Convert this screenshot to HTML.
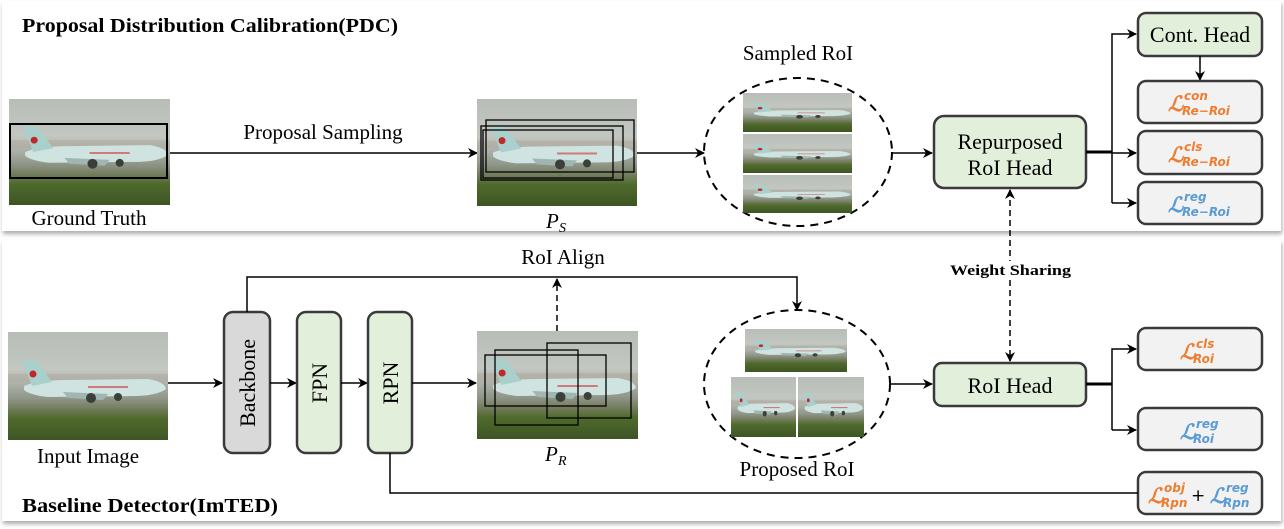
<!DOCTYPE html>
<html><head><meta charset="utf-8"><style>
html,body{margin:0;padding:0;background:#fff;width:1284px;height:529px;overflow:hidden}
svg{display:block}
</style></head><body>
<svg width="1284" height="529" viewBox="0 0 1284 529" xmlns="http://www.w3.org/2000/svg" font-family="'Liberation Serif', serif">
<defs>
<linearGradient id="sky" x1="0" y1="0" x2="0" y2="1">
<stop offset="0" stop-color="#b9bdb8"/><stop offset="0.35" stop-color="#c3c7c1"/><stop offset="0.5" stop-color="#a9ada4"/><stop offset="0.62" stop-color="#8e9486"/><stop offset="0.72" stop-color="#6f7a58"/><stop offset="0.8" stop-color="#4f6a2c"/><stop offset="1" stop-color="#3e5524"/>
</linearGradient>
<symbol id="photo" viewBox="0 0 160 108" preserveAspectRatio="none">
<rect width="160" height="108" fill="url(#sky)"/>
<rect y="42" width="160" height="8" fill="#b0aba0" opacity="0.6"/>
<path d="M16 54 Q30 48 60 48 L140 47 Q157 50 158 57 Q150 63 130 64 L40 65 Q22 63 16 58 Z" fill="#cfe3e0"/>
<path d="M14 28 L28 28 L44 50 L24 54 Z" fill="#a9d0cc"/>
<circle cx="25" cy="42" r="3.5" fill="#c0282a"/>
<path d="M55 60 L100 62 L95 68 L60 66 Z" fill="#9fb6b3"/>
<circle cx="83" cy="66" r="5" fill="#3a3f3a"/><circle cx="110" cy="65" r="4" fill="#3a3f3a"/>
<rect x="80" y="54" width="40" height="2" fill="#c33" opacity="0.6"/>
</symbol>
<marker id="ar" markerWidth="10" markerHeight="10" refX="9" refY="5" orient="auto" markerUnits="userSpaceOnUse">
<path d="M0,0 L10,5 L0,10 L3,5 Z" fill="#000"/></marker>
<marker id="ar2" markerWidth="10" markerHeight="10" refX="9" refY="5" orient="auto-start-reverse" markerUnits="userSpaceOnUse">
<path d="M0,0 L10,5 L0,10 L3,5 Z" fill="#000"/></marker>
<filter id="sh" x="-2%" y="-5%" width="104%" height="115%"><feDropShadow dx="1" dy="3" stdDeviation="2" flood-color="#888" flood-opacity="0.7"/></filter>
</defs>

<rect x="2" y="1" width="1279" height="230" fill="#fff" filter="url(#sh)"/>
<rect x="2" y="240" width="1279" height="281" fill="#fff" filter="url(#sh)"/>

<text x="22" y="32" font-size="20" font-weight="bold" textLength="376" lengthAdjust="spacingAndGlyphs">Proposal Distribution Calibration(PDC)</text>
<text x="22" y="512" font-size="20" font-weight="bold" textLength="256" lengthAdjust="spacingAndGlyphs">Baseline Detector(ImTED)</text>

<use href="#photo" x="9" y="99" width="161" height="106"/>
<rect x="10" y="124" width="157" height="54" fill="none" stroke="#000" stroke-width="2"/>
<text x="89" y="225" font-size="21" text-anchor="middle">Ground Truth</text>
<line x1="170" y1="153" x2="477" y2="153" stroke="#000" stroke-width="1.5" marker-end="url(#ar)"/>
<text x="323" y="139" font-size="21" text-anchor="middle">Proposal Sampling</text>

<use href="#photo" x="477" y="99" width="160" height="107"/>
<rect x="481" y="126" width="142" height="54" fill="none" stroke="#000" stroke-width="1.3"/>
<rect x="486" y="120" width="148" height="52" fill="none" stroke="#000" stroke-width="1.3"/>
<rect x="483" y="130" width="130" height="48" fill="none" stroke="#000" stroke-width="1.3"/>
<text x="546" y="228" font-size="21" font-style="italic">P</text><text x="559" y="232" font-size="14" font-style="italic">S</text>
<line x1="637" y1="153" x2="704" y2="153" stroke="#000" stroke-width="1.5" marker-end="url(#ar)"/>

<ellipse cx="798" cy="152" rx="94" ry="74" fill="none" stroke="#000" stroke-width="2" stroke-dasharray="8,6"/>
<text x="798" y="60" font-size="21" text-anchor="middle">Sampled RoI</text>
<use href="#photo" x="743" y="93" width="109" height="39"/>
<use href="#photo" x="743" y="134" width="109" height="39"/>
<use href="#photo" x="743" y="175" width="109" height="38"/>
<line x1="892" y1="153" x2="932" y2="153" stroke="#000" stroke-width="1.5" marker-end="url(#ar)"/>

<rect x="934" y="116" width="152" height="72" rx="10" fill="#e2efda" stroke="#3a3a3a" stroke-width="2.5"/>
<text x="1010" y="149" font-size="22" text-anchor="middle">Repurposed</text>
<text x="1010" y="175" font-size="22" text-anchor="middle">RoI Head</text>

<line x1="1086" y1="152" x2="1112" y2="152" stroke="#000" stroke-width="3"/>
<polyline points="1112,203 1112,34 1136,34" fill="none" stroke="#000" stroke-width="1.5" marker-end="url(#ar)"/>
<line x1="1112" y1="153" x2="1136" y2="153" stroke="#000" stroke-width="1.5" marker-end="url(#ar)"/>
<line x1="1112" y1="203" x2="1136" y2="203" stroke="#000" stroke-width="1.5" marker-end="url(#ar)"/>

<rect x="1138" y="13" width="124" height="43" rx="8" fill="#e2efda" stroke="#3a3a3a" stroke-width="2.5"/>
<text x="1200" y="42" font-size="22" text-anchor="middle">Cont. Head</text>
<line x1="1200" y1="56" x2="1200" y2="80" stroke="#000" stroke-width="1.5" marker-end="url(#ar)"/>

<g font-family="'DejaVu Sans', sans-serif" font-weight="bold" font-style="italic">
<rect x="1138" y="81" width="124" height="42" rx="8" fill="#f2f2f2" stroke="#3a3a3a" stroke-width="2.5"/>
<text x="1168" y="111" font-size="21" fill="#ed7d31" font-family="'DejaVu Serif',serif">ℒ</text>
<text x="1184" y="100" font-size="12" fill="#ed7d31">con</text>
<text x="1182" y="115" font-size="12" fill="#ed7d31">Re−Roi</text>
<rect x="1138" y="131" width="124" height="43" rx="8" fill="#f2f2f2" stroke="#3a3a3a" stroke-width="2.5"/>
<text x="1168" y="162" font-size="21" fill="#ed7d31" font-family="'DejaVu Serif',serif">ℒ</text>
<text x="1184" y="151" font-size="12" fill="#ed7d31">cls</text>
<text x="1182" y="166" font-size="12" fill="#ed7d31">Re−Roi</text>
<rect x="1138" y="182" width="124" height="42" rx="8" fill="#f2f2f2" stroke="#3a3a3a" stroke-width="2.5"/>
<text x="1168" y="212" font-size="21" fill="#5b9bd5" font-family="'DejaVu Serif',serif">ℒ</text>
<text x="1184" y="201" font-size="12" fill="#5b9bd5">reg</text>
<text x="1182" y="216" font-size="12" fill="#5b9bd5">Re−Roi</text>

<rect x="1138" y="328" width="124" height="42" rx="8" fill="#f2f2f2" stroke="#3a3a3a" stroke-width="2.5"/>
<text x="1180" y="359" font-size="21" fill="#ed7d31" font-family="'DejaVu Serif',serif">ℒ</text>
<text x="1196" y="348" font-size="12" fill="#ed7d31">cls</text>
<text x="1193" y="363" font-size="12" fill="#ed7d31">Roi</text>
<rect x="1138" y="408" width="124" height="42" rx="8" fill="#f2f2f2" stroke="#3a3a3a" stroke-width="2.5"/>
<text x="1180" y="439" font-size="21" fill="#5b9bd5" font-family="'DejaVu Serif',serif">ℒ</text>
<text x="1196" y="428" font-size="12" fill="#5b9bd5">reg</text>
<text x="1193" y="443" font-size="12" fill="#5b9bd5">Roi</text>
<rect x="1138" y="472" width="124" height="42" rx="8" fill="#f2f2f2" stroke="#3a3a3a" stroke-width="2.5"/>
<text x="1148" y="503" font-size="21" fill="#ed7d31" font-family="'DejaVu Serif',serif">ℒ</text>
<text x="1164" y="492" font-size="12" fill="#ed7d31">obj</text>
<text x="1161" y="507" font-size="12" fill="#ed7d31">Rpn</text>
<text x="1191" y="501" font-size="17" fill="#000" font-style="normal" font-weight="normal">+</text>
<text x="1210" y="503" font-size="21" fill="#5b9bd5" font-family="'DejaVu Serif',serif">ℒ</text>
<text x="1226" y="492" font-size="12" fill="#5b9bd5">reg</text>
<text x="1223" y="507" font-size="12" fill="#5b9bd5">Rpn</text>
</g>

<line x1="1010" y1="190" x2="1010" y2="361" stroke="#000" stroke-width="1.5" stroke-dasharray="6,4" marker-start="url(#ar2)" marker-end="url(#ar2)"/>
<rect x="948" y="261" width="124" height="17" fill="#fff"/>
<text x="950" y="275" font-size="15" font-weight="bold" textLength="121" lengthAdjust="spacingAndGlyphs">Weight  Sharing</text>

<use href="#photo" x="8" y="332" width="160" height="108"/>
<text x="88" y="463" font-size="21" text-anchor="middle">Input Image</text>
<line x1="168" y1="383" x2="222" y2="383" stroke="#000" stroke-width="1.5" marker-end="url(#ar)"/>

<rect x="224" y="312" width="46" height="141" rx="9" fill="#d9d9d9" stroke="#3a3a3a" stroke-width="2.5"/>
<text transform="translate(255,383) rotate(-90)" font-size="22" text-anchor="middle">Backbone</text>
<line x1="270" y1="383" x2="296" y2="383" stroke="#000" stroke-width="1.5" marker-end="url(#ar)"/>
<rect x="297" y="312" width="44" height="141" rx="9" fill="#e2efda" stroke="#3a3a3a" stroke-width="2.5"/>
<text transform="translate(327,383) rotate(-90)" font-size="22" text-anchor="middle">FPN</text>
<line x1="341" y1="383" x2="367" y2="383" stroke="#000" stroke-width="1.5" marker-end="url(#ar)"/>
<rect x="368" y="312" width="44" height="141" rx="9" fill="#e2efda" stroke="#3a3a3a" stroke-width="2.5"/>
<text transform="translate(398,383) rotate(-90)" font-size="22" text-anchor="middle">RPN</text>
<line x1="412" y1="383" x2="476" y2="383" stroke="#000" stroke-width="1.5" marker-end="url(#ar)"/>

<polyline points="247,312 247,277 797,277 797,310" fill="none" stroke="#000" stroke-width="1.5" marker-end="url(#ar)"/>
<text x="563" y="264" font-size="21" text-anchor="middle">RoI Align</text>
<line x1="557" y1="331" x2="557" y2="279" stroke="#000" stroke-width="1.5" stroke-dasharray="6,4" marker-end="url(#ar)"/>

<use href="#photo" x="477" y="331" width="161" height="108"/>
<rect x="547" y="343" width="84" height="75" fill="none" stroke="#000" stroke-width="1.3"/>
<rect x="495" y="350" width="83" height="75" fill="none" stroke="#000" stroke-width="1.3"/>
<rect x="485" y="355" width="121" height="51" fill="none" stroke="#000" stroke-width="1.3"/>
<text x="545" y="461" font-size="21" font-style="italic">P</text><text x="558" y="465" font-size="14" font-style="italic">R</text>

<ellipse cx="797" cy="384" rx="93" ry="74" fill="none" stroke="#000" stroke-width="2" stroke-dasharray="8,6"/>
<use href="#photo" x="745" y="329" width="102" height="43"/>
<use href="#photo" x="731" y="377" width="65" height="60"/>
<use href="#photo" x="798" y="377" width="66" height="60"/>
<text x="797" y="476" font-size="21" text-anchor="middle">Proposed RoI</text>
<line x1="890" y1="384" x2="932" y2="384" stroke="#000" stroke-width="1.5" marker-end="url(#ar)"/>

<rect x="934" y="363" width="152" height="43" rx="8" fill="#e2efda" stroke="#3a3a3a" stroke-width="2.5"/>
<text x="1010" y="393" font-size="22" text-anchor="middle">RoI Head</text>
<line x1="1086" y1="384" x2="1112" y2="384" stroke="#000" stroke-width="3"/>
<polyline points="1112,430 1112,349 1136,349" fill="none" stroke="#000" stroke-width="1.5" marker-end="url(#ar)"/>
<line x1="1112" y1="430" x2="1136" y2="430" stroke="#000" stroke-width="1.5" marker-end="url(#ar)"/>

<polyline points="390,453 390,493 1138,493" fill="none" stroke="#000" stroke-width="1.5"/>
</svg>
</body></html>
